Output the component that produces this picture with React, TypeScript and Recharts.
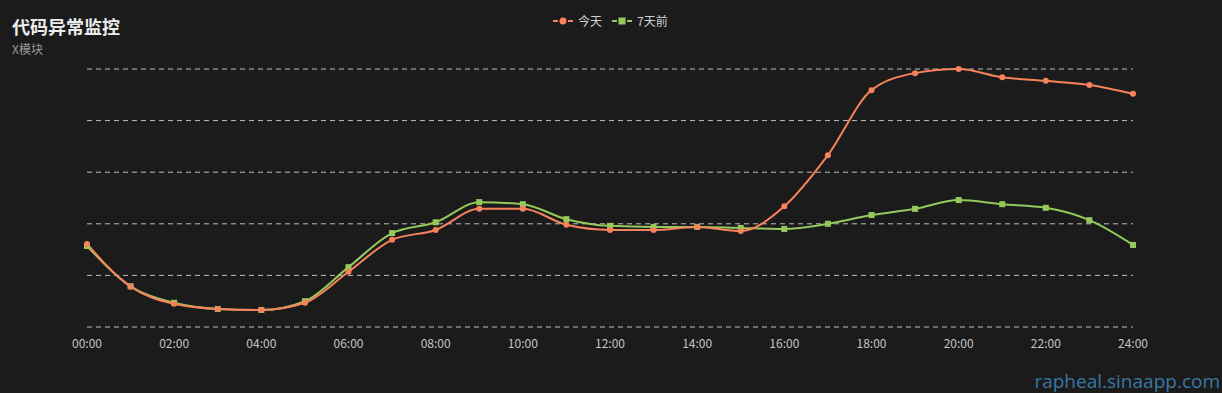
import { LineChart, Line, CartesianGrid, XAxis, YAxis } from "recharts";

const hours = [
  "00:00", "01:00", "02:00", "03:00", "04:00", "05:00", "06:00", "07:00", "08:00",
  "09:00", "10:00", "11:00", "12:00", "13:00", "14:00", "15:00", "16:00", "17:00",
  "18:00", "19:00", "20:00", "21:00", "22:00", "23:00", "24:00",
];
const today = [
  161, 78, 45, 35, 33, 47, 107, 169, 188, 229, 229, 198, 188, 188, 194, 186, 234,
  333, 459, 492, 500, 484, 477, 469, 452,
];
const weekAgo = [
  157, 79, 47, 35, 33, 50, 116, 182, 203, 242, 238, 209, 196, 194, 194, 192, 190,
  200, 217, 229, 246, 238, 231, 207, 159,
];
const yTicks = [0, 100, 200, 300, 400, 500];

const ORANGE = "#f7825c";
const GREEN = "#95c95c";
const FONT = '"Noto Sans CJK SC", "Noto Sans", sans-serif';

const data = hours.map((h, i) => ({ time: h, today: today[i], weekAgo: weekAgo[i] }));

const SquareDot = (props: any) => {
  const { cx, cy } = props;
  if (cx == null || cy == null) return null;
  return <rect x={cx - 3} y={cy - 3} width={6} height={6} fill={GREEN} />;
};

function LegendItems() {
  return (
    <div
      style={{
        position: "absolute",
        top: 12,
        left: 553,
        display: "flex",
        alignItems: "center",
        fontSize: 12,
        color: "#d0d0d0",
        fontFamily: FONT,
      }}
    >
      <svg width={20} height={10}>
        <line x1={0} y1={5} x2={5} y2={5} stroke={ORANGE} strokeWidth={2} />
        <line x1={15} y1={5} x2={20} y2={5} stroke={ORANGE} strokeWidth={2} />
        <circle cx={10} cy={5} r={3.5} fill={ORANGE} />
      </svg>
      <span style={{ marginLeft: 5, marginRight: 10 }}>今天</span>
      <svg width={20} height={10}>
        <line x1={0} y1={5} x2={5} y2={5} stroke={GREEN} strokeWidth={2} />
        <line x1={15} y1={5} x2={20} y2={5} stroke={GREEN} strokeWidth={2} />
        <rect x={6.5} y={1.5} width={7} height={7} fill={GREEN} />
      </svg>
      <span style={{ marginLeft: 5 }}>7天前</span>
    </div>
  );
}

export default function App() {
  return (
    <div
      style={{
        position: "absolute",
        left: 0,
        top: 0,
        width: 1222,
        height: 393,
        background: "#1b1b1b",
        overflow: "hidden",
        fontFamily: FONT,
      }}
    >
      <div style={{ position: "absolute", left: 12, top: 13, fontSize: 18, fontWeight: "bold", color: "#ececec" }}>
        代码异常监控
      </div>
      <div style={{ position: "absolute", left: 12, top: 40, fontSize: 12, color: "#9a9a9a" }}>X模块</div>
      <LegendItems />
      <LineChart
        width={1222}
        height={393}
        data={data}
        margin={{ top: 69, right: 89, bottom: 36, left: 87 }}
      >
        <CartesianGrid vertical={false} stroke="#bdbdbd" strokeDasharray="5 4" />
        <XAxis
          dataKey="time"
          interval={1}
          axisLine={false}
          tickLine={false}
          tickMargin={6}
          height={30}
          tick={{ fill: "#c4c4c4", fontSize: 12, fontFamily: FONT }}
        />
        <YAxis hide domain={[0, 500]} ticks={yTicks} />
        <Line
          type="monotone"
          dataKey="weekAgo"
          stroke={GREEN}
          strokeWidth={2}
          dot={<SquareDot />}
          isAnimationActive={false}
        />
        <Line
          type="monotone"
          dataKey="today"
          stroke={ORANGE}
          strokeWidth={2}
          dot={{ r: 3, fill: ORANGE, stroke: ORANGE, strokeWidth: 0 }}
          isAnimationActive={false}
        />
      </LineChart>
      <div
        style={{
          position: "absolute",
          right: 2,
          top: 368,
          fontSize: 19,
          color: "#3a77a3",
          fontFamily: '"Open Sans", "DejaVu Sans", sans-serif',
        }}
      >
        rapheal.sinaapp.com
      </div>
    </div>
  );
}
